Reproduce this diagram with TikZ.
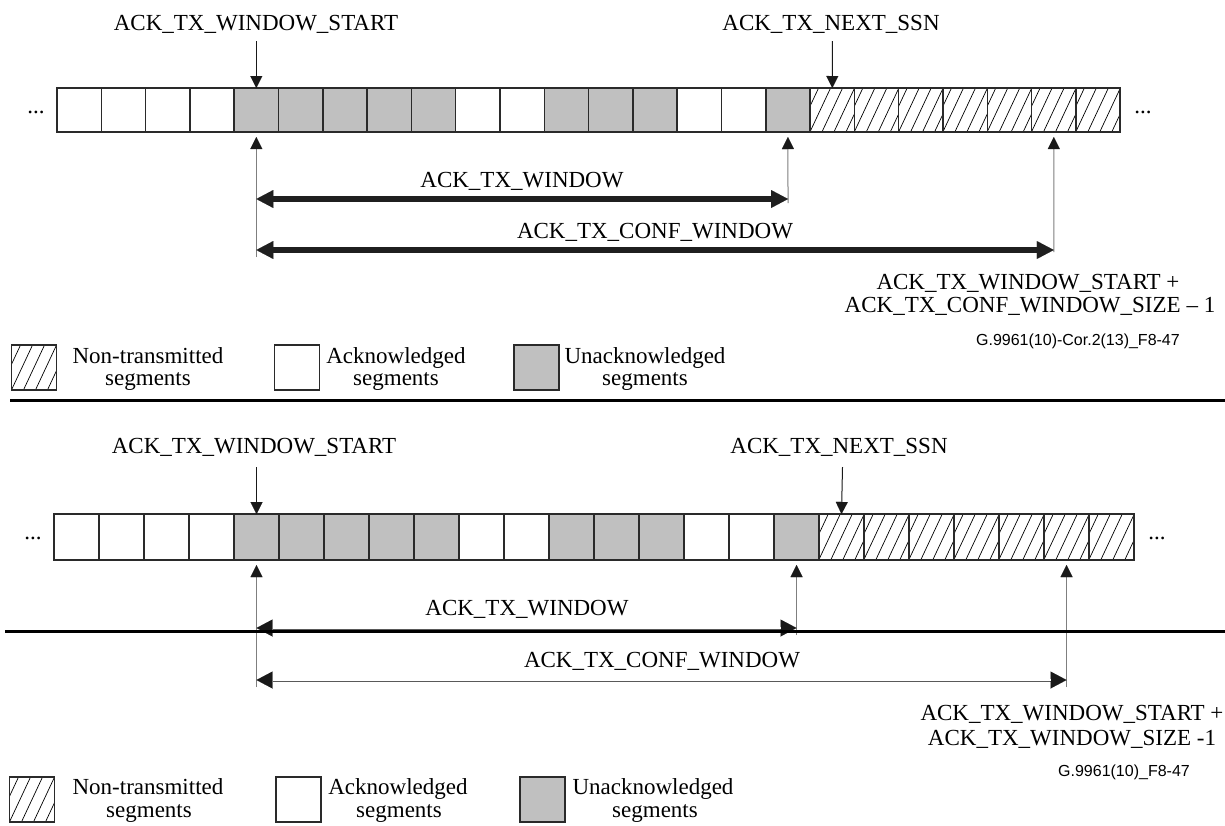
\documentclass[tikz,border=0pt]{standalone}
\usepackage{fontspec}
\setmainfont{Liberation Serif}
\newfontfamily\arialfont{Liberation Sans}
\usetikzlibrary{arrows.meta}
\definecolor{segGray}{HTML}{C0C0C0}
\definecolor{edgeC}{HTML}{2A2A2A}
\definecolor{vlineC}{HTML}{7F7F7F}
\begin{document}
\begin{tikzpicture}[x=1pt,y=-1pt,
  hatch/.style={path picture={\foreach \k in {-4,...,4}{\draw[line width=0.7pt,black] ([xshift=\k*12pt]path picture bounding box.center) ++(-15pt,-32pt) -- ++(30pt,64pt);}}},
  seg/.style={draw=edgeC, line width=1.5pt, inner sep=0pt, outer sep=0pt, minimum width=44.3pt, minimum height=44pt},
  segW/.style={seg, fill=white},
  segG/.style={seg, fill=segGray},
  segH/.style={seg, fill=white, hatch},
  lbl/.style={font=\fontsize{23}{23}\selectfont, inner sep=0pt, anchor=base},
  glbl/.style={font=\arialfont\fontsize{16}{16}\selectfont, inner sep=0pt, anchor=base east},
  downarr/.style={draw=black!90, line width=1pt, -{Triangle[length=12pt,width=12pt,line width=0.01pt]}},
  uparr/.style={draw=vlineC, line width=1pt, -{Triangle[length=12pt,width=12pt,color=black!90,line width=0.01pt]}},
  thickarr/.style={draw=black!88, line width=5.5pt, {Triangle[length=17pt,width=18pt,line width=0.01pt]}-{Triangle[length=17pt,width=18pt,line width=0.01pt]}},
  thinarr/.style={draw=black!65, line width=3pt, {Triangle[length=16pt,width=17pt,color=black!90,line width=0.01pt]}-{Triangle[length=16pt,width=17pt,color=black!90,line width=0.01pt]}},
  thincore/.style={draw=white, line width=1.2pt, shorten <=16pt, shorten >=16pt},
  divider/.style={draw=black, line width=3pt}
]
\useasboundingbox[fill=white] (0,0) rectangle (1225,825);

% ---------------- segment rows ----------------
\foreach \i/\s in {0/segW,1/segW,2/segW,3/segW,4/segG,5/segG,6/segG,7/segG,8/segG,9/segW,10/segW,11/segG,12/segG,13/segG,14/segW,15/segW,16/segG,17/segH,18/segH,19/segH,20/segH,21/segH,22/segH,23/segH}{
  \pgfmathsetmacro\xa{57+(\i+0.5)*44.3}
  \pgfmathsetmacro\xb{54+(\i+0.5)*45}
  \node[\s] (t\i) at (\xa,110) {};
  \node[\s, minimum width=45pt, minimum height=46pt] (b\i) at (\xb,537) {};
}

% ================= TOP =================
\node[lbl] (tWS) at (256,30) {ACK\_TX\_WINDOW\_START};
\node[lbl] (tNS) at (831,30) {ACK\_TX\_NEXT\_SSN};
\coordinate (tdA) at (256.35,41);
\coordinate (tdB) at (832.3,41);
\draw[downarr] (tdA) -- (t4.north);
\draw[downarr] (tdB) -- (t17.north);

\node[lbl] (tDL) at (36,113) {...};
\node[lbl] (tDR) at (1143,113) {...};

\coordinate (tuA) at (256.35,257);
\coordinate (tuB) at (788,203);
\coordinate (tuC) at (1053.75,252);
\draw[uparr] (tuA) -- ([yshift=-5pt]t4.south);
\draw[uparr] (tuB) -- ([yshift=-5pt]t16.south);
\draw[uparr] (tuC) -- ([yshift=-5pt]t22.south);

\coordinate (twL) at (256.35,199);
\coordinate (twR) at (788,199);
\coordinate (tcL) at (256.35,250);
\coordinate (tcR) at (1053.75,250);
\draw[thickarr] (twL) -- (twR);
\draw[thickarr] (tcL) -- (tcR);
\node[lbl] (tW) at (522,187) {ACK\_TX\_WINDOW};
\node[lbl] (tC) at (655,238) {ACK\_TX\_CONF\_WINDOW};

\node[lbl] (tE1) at (1028,289) {ACK\_TX\_WINDOW\_START +};
\node[lbl] (tE2) at (1030,312) {ACK\_TX\_CONF\_WINDOW\_SIZE \textendash{} 1};
\node[glbl] (tG) at (1180,345) {G.9961(10)-Cor.2(13)\_F8-47};

% legend top
\node[segH, minimum width=45pt, minimum height=45pt] (tLH) at (34,367.5) {};
\node[segW, minimum width=45pt, minimum height=45pt] (tLW) at (297,367.5) {};
\node[segG, minimum width=45pt, minimum height=45pt] (tLG) at (536.5,367.5) {};
\node[lbl] (tLH1) at (148,363) {Non-transmitted};
\node[lbl] (tLH2) at (148,385) {segments};
\node[lbl] (tLW1) at (396,363) {Acknowledged};
\node[lbl] (tLW2) at (396,385) {segments};
\node[lbl] (tLG1) at (645,363) {Unacknowledged};
\node[lbl] (tLG2) at (645,385) {segments};

\coordinate (dv1L) at (10,400);
\coordinate (dv1R) at (1225,400);
\draw[divider] (dv1L) -- (dv1R);

% ================= BOTTOM =================
\node[lbl] (bWS) at (254,453) {ACK\_TX\_WINDOW\_START};
\node[lbl] (bNS) at (839,453) {ACK\_TX\_NEXT\_SSN};
\coordinate (bdA) at (256.5,467);
\coordinate (bdB) at (842.5,467);
\draw[downarr] (bdA) -- (b4.north);
\draw[downarr] (bdB) -- (b17.north);

\node[lbl] (bDL) at (33,539) {...};
\node[lbl] (bDR) at (1157,539) {...};

\coordinate (buA) at (256.5,687);
\coordinate (buB) at (796.5,635);
\coordinate (buC) at (1066.5,687);
\draw[uparr] (buA) -- ([yshift=-5pt]b4.south);
\draw[uparr] (buB) -- ([yshift=-5pt]b16.south);
\draw[uparr] (buC) -- ([yshift=-5pt]b22.south);

\coordinate (bwL) at (256.5,628);
\coordinate (bwR) at (796.5,628);
\coordinate (bcL) at (256.5,680);
\coordinate (bcR) at (1066.5,680);
\draw[thinarr] (bwL) -- (bwR);
\draw[thincore] (bwL) -- (bwR);
\draw[thinarr] (bcL) -- (bcR);
\draw[thincore] (bcL) -- (bcR);
\node[lbl] (bW) at (527,615) {ACK\_TX\_WINDOW};
\node[lbl] (bC) at (662,667) {ACK\_TX\_CONF\_WINDOW};

\coordinate (dv2L) at (5,631);
\coordinate (dv2R) at (1225,631);
\draw[divider] (dv2L) -- (dv2R);

\node[lbl] (bE1) at (1072,720) {ACK\_TX\_WINDOW\_START +};
\node[lbl] (bE2) at (1072,745) {ACK\_TX\_WINDOW\_SIZE -1};
\node[glbl] (bG) at (1190,776) {G.9961(10)\_F8-47};

% legend bottom
\node[segH, minimum width=45pt, minimum height=45pt] (bLH) at (32,799.5) {};
\node[segW, minimum width=45pt, minimum height=45pt] (bLW) at (298.5,799.5) {};
\node[segG, minimum width=45pt, minimum height=45pt] (bLG) at (542.5,799.5) {};
\node[lbl] (bLH1) at (148,794) {Non-transmitted};
\node[lbl] (bLH2) at (149,817) {segments};
\node[lbl] (bLW1) at (398,794) {Acknowledged};
\node[lbl] (bLW2) at (399,817) {segments};
\node[lbl] (bLG1) at (653,794) {Unacknowledged};
\node[lbl] (bLG2) at (655,817) {segments};
\end{tikzpicture}
\end{document}
